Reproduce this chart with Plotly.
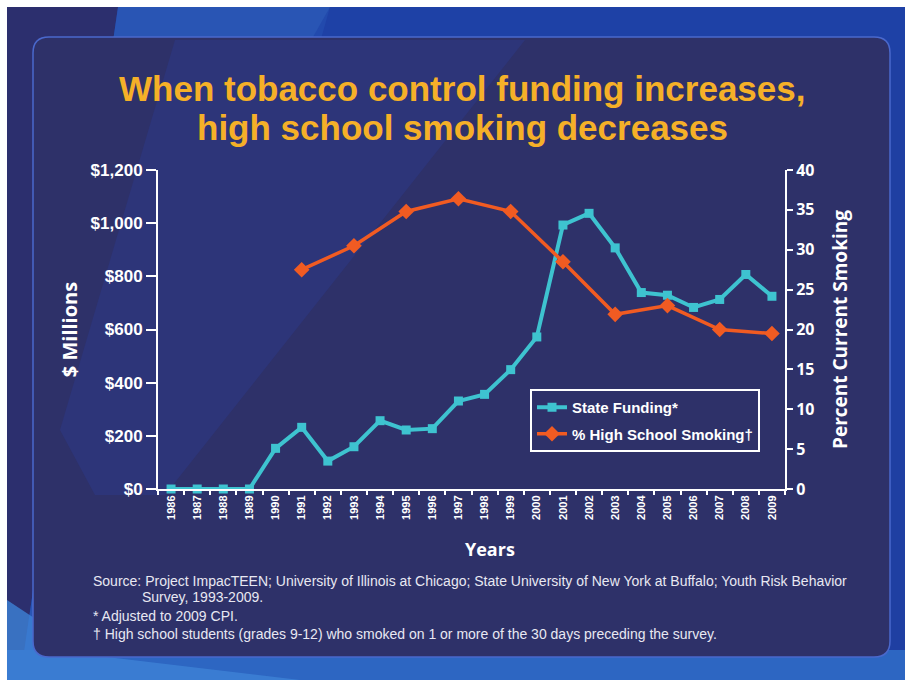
import plotly.graph_objects as go

# ---- data -------------------------------------------------------------
years = [str(y) for y in range(1986, 2010)]
state_funding = [0, 0, 0, 0, 153, 232, 105, 159, 257, 222, 227, 331, 356,
                 449, 572, 993, 1037, 907, 739, 729, 683, 713, 807, 725]

smoking_years = ["1991", "1993", "1995", "1997", "1999",
                 "2001", "2003", "2005", "2007", "2009"]
hs_smoking = [27.5, 30.5, 34.8, 36.4, 34.8, 28.5, 21.9, 23.0, 20.0, 19.5]

left_ticks = [0, 200, 400, 600, 800, 1000, 1200]
left_labels = ["$0", "$200", "$400", "$600", "$800", "$1,000", "$1,200"]
right_ticks = [0, 5, 10, 15, 20, 25, 30, 35, 40]

title_lines = ["When tobacco control funding increases,",
               "high school smoking decreases"]

# ---- page geometry (pixels) --------------------------------------------
W, H = 905, 680
PL, PR, PT, PB = 158, 785, 170, 489   # plot area edges


def px(x):
    return (x - PL) / (PR - PL)


def py(y):
    return (PB - y) / (PB - PT)


CYAN = "#3ec3d0"
ORANGE = "#f15b22"
PANEL = "#2e3169"
WHITE = "#ffffff"

fig = go.Figure()

fig.add_trace(go.Scatter(
    x=years, y=state_funding, name="State Funding*",
    mode="lines+markers", legendgroup="a",
    line=dict(color=CYAN, width=4),
    marker=dict(symbol="square", size=9, color=CYAN),
    cliponaxis=False,
))
fig.add_trace(go.Scatter(
    x=smoking_years, y=hs_smoking, name="% High School Smoking\u2020",
    mode="lines+markers", yaxis="y2", legendgroup="b",
    line=dict(color=ORANGE, width=3.5),
    marker=dict(symbol="diamond", size=12, color=ORANGE),
    cliponaxis=False,
))

# ---- background shapes --------------------------------------------------
shapes = []


def poly(points, color, opacity=1.0):
    d = "M " + " L ".join(f"{px(x):.5f},{py(y):.5f}" for x, y in points) + " Z"
    shapes.append(dict(type="path", xref="paper", yref="paper", path=d,
                       fillcolor=color, opacity=opacity, layer="below",
                       line=dict(width=0)))


# slide backdrop
poly([(0, 0), (W, 0), (W, H), (0, H)], "#1f3fa2")
poly([(7, 7), (118, 7), (20, 680), (7, 680)], "#2c2f6e")
poly([(118, 7), (330, 7), (140, 680), (20, 680)], "#2a58b6", 0.9)
poly([(330, 7), (905, 7), (905, 60), (300, 60)], "#1e43a8", 0.6)
poly([(7, 650), (905, 650), (905, 680), (7, 680)], "#2d66c2")
poly([(7, 600), (90, 655), (300, 680), (7, 680)], "#3d82d6", 0.8)
# white page edges
poly([(0, 0), (W, 0), (W, 7), (0, 7)], WHITE)
poly([(0, 0), (7, 0), (7, H), (0, H)], WHITE)

# rounded panel
x0, x1, y0, y1, r = 33, 890, 37, 657, 16
path = (
    f"M {px(x0 + r)},{py(y0)} L {px(x1 - r)},{py(y0)} "
    f"Q {px(x1)},{py(y0)} {px(x1)},{py(y0 + r)} "
    f"L {px(x1)},{py(y1 - r)} Q {px(x1)},{py(y1)} {px(x1 - r)},{py(y1)} "
    f"L {px(x0 + r)},{py(y1)} Q {px(x0)},{py(y1)} {px(x0)},{py(y1 - r)} "
    f"L {px(x0)},{py(y0 + r)} Q {px(x0)},{py(y0)} {px(x0 + r)},{py(y0)} Z"
)
shapes.append(dict(type="path", xref="paper", yref="paper", path=path,
                   fillcolor=PANEL, layer="below",
                   line=dict(color="#4a68cc", width=1.5)))

# faint diagonal light band crossing the panel
poly([(60, 430), (175, 40), (525, 40), (165, 495), (95, 495)],
     "#2b409e", 0.3)

# ---- text ------------------------------------------------------------------
title_font = dict(family="Arial, Liberation Sans", size=35,
                  color="#f5b028", weight="bold")
annotations = [
    dict(text=t, x=px(462), y=py(yy), xref="paper", yref="paper",
         xanchor="center", yanchor="middle", showarrow=False, font=title_font)
    for t, yy in zip(title_lines, (88, 127))
]
annotations.append(
    dict(text="Years", x=px(490), y=py(549), xref="paper", yref="paper",
         xanchor="center", yanchor="middle", showarrow=False,
         font=dict(family="Open Sans", size=18, color=WHITE, weight="bold")))

foot_font = dict(family="Arial, Liberation Sans", size=14, color="#e8e8f2")
footnotes = [
    (91, 581, "Source: Project ImpacTEEN; University of Illinois at Chicago; "
              "State University of New York at Buffalo; Youth Risk Behavior"),
    (140, 597, "Survey, 1993-2009."),
    (91, 616, "* Adjusted to 2009 CPI."),
    (91, 634, "\u2020 High school students (grades 9-12) who smoked on 1 or "
              "more of the 30 days preceding the survey."),
]
for fx, fy, t in footnotes:
    annotations.append(dict(text=t, x=px(fx), y=py(fy), xref="paper",
                            yref="paper", xanchor="left", yanchor="middle",
                            showarrow=False, font=foot_font))

fig.update_layout(
    width=W, height=H,
    margin=dict(l=PL, r=W - PR, t=PT, b=H - PB, pad=0),
    paper_bgcolor="#1f3fa2",
    plot_bgcolor="rgba(0,0,0,0)",
    shapes=shapes,
    annotations=annotations,
    showlegend=True,
    legend=dict(
        x=px(530), y=py(389), xanchor="left", yanchor="top",
        bgcolor=PANEL, bordercolor=WHITE, borderwidth=2,
        font=dict(family="Arial, Liberation Sans", size=15, color=WHITE,
                  weight="bold"),
        itemwidth=30, tracegroupgap=4,
    ),
    xaxis=dict(
        type="category", categoryorder="array", categoryarray=years,
        range=[-0.5, len(years) - 0.5],
        showline=True, linecolor=WHITE, linewidth=2,
        ticks="outside", tickson="boundaries", ticklen=4,
        tickcolor=WHITE, tickwidth=1.5,
        tickangle=-90, showgrid=False, zeroline=False,
        tickfont=dict(family="Arial, Liberation Sans", size=11,
                      color=WHITE, weight="bold"),
    ),
    yaxis=dict(
        range=[0, 1200], tickvals=left_ticks, ticktext=left_labels,
        showline=True, linecolor=WHITE, linewidth=2,
        ticks="outside", ticklen=10, tickcolor=WHITE, tickwidth=2,
        showgrid=False, zeroline=False,
        tickfont=dict(family="Arial, Liberation Sans", size=17,
                      color=WHITE, weight="bold"),
        title=dict(text="$ Millions", standoff=8,
                   font=dict(family="Open Sans", size=20, color=WHITE,
                             weight="bold")),
    ),
    yaxis2=dict(
        range=[0, 40], tickvals=right_ticks, overlaying="y", side="right",
        anchor="x",
        showline=True, linecolor=WHITE, linewidth=2,
        ticks="outside", ticklen=6, tickcolor=WHITE, tickwidth=2,
        showgrid=False, zeroline=False,
        tickfont=dict(family="Open Sans", size=16, color=WHITE,
                      weight="bold"),
        title=dict(text="Percent Current Smoking", standoff=20,
                   font=dict(family="Open Sans", size=19, color=WHITE,
                             weight="bold")),
    ),
)

fig.write_html("out.html")
